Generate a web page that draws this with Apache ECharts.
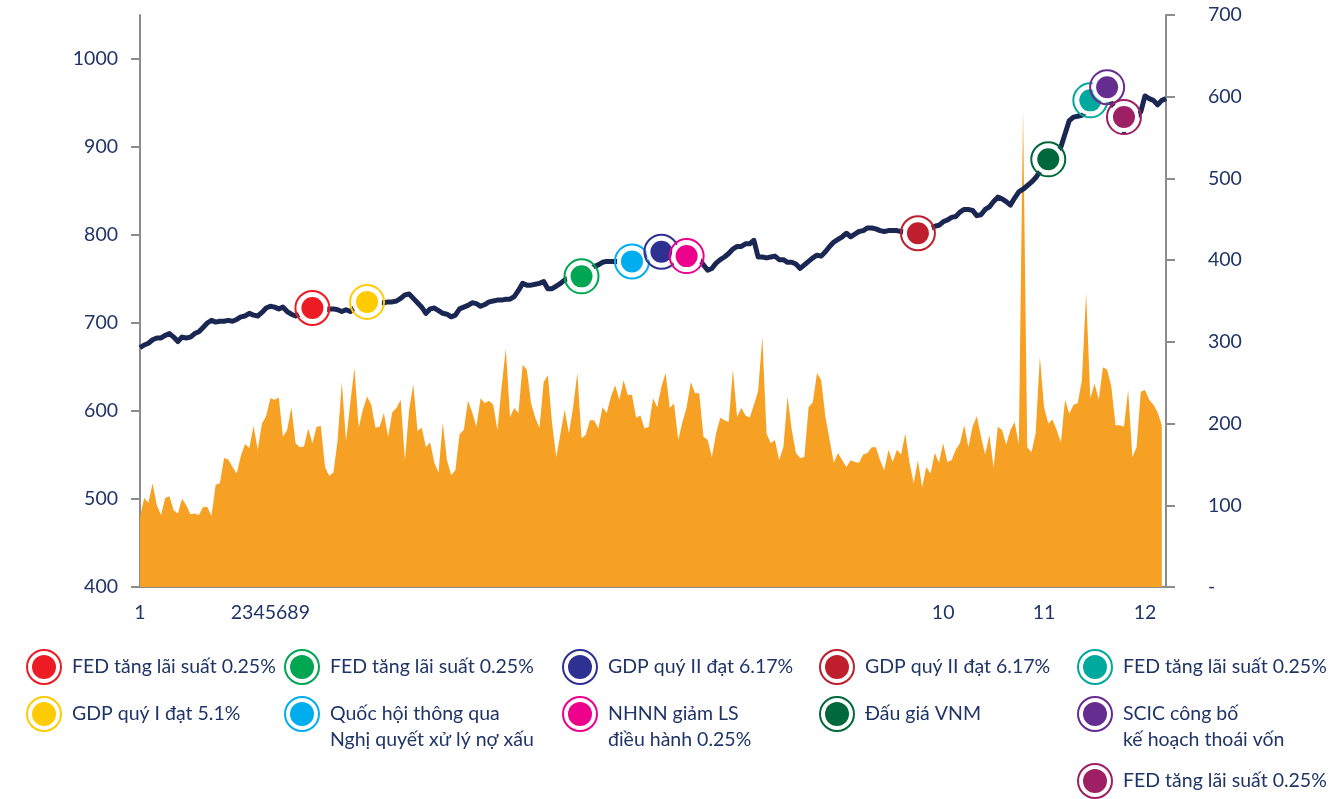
<!DOCTYPE html>
<html>
<head>
<meta charset="utf-8">
<script src="https://cdn.jsdelivr.net/npm/echarts@6/dist/echarts.min.js"></script>
<style>
  html, body { margin: 0; padding: 0; background: #fff; }
  #chart { width: 1341px; height: 799px; }
</style>
</head>
<body>
<div id="chart"></div>
<script>
// trading sessions (one category per session)
const sessionCount = 245;
const sessions = Array.from({ length: sessionCount }, (_, i) => 'S' + (i + 1));

// month labels shown under the axis, at these session indexes
const monthLabelAt = [0, 31, 191, 215, 239];
const monthLabels = ['1', '2345689', '10', '11', '12'];

// VN-Index (left axis)
const vnIndex = [
  672, 675, 677, 681, 683, 683, 686, 688, 684, 679,
  684, 683, 684, 688, 690, 695, 700, 703, 701, 702,
  702, 703, 702, 704, 707, 708, 711, 709, 708, 712,
  717, 719, 718, 716, 718, 713, 710, 708, 710, 716,
  717, 717, 717, 716, 715, 716, 716, 715, 713, 715,
  713, 717, 720, 723, 724, 724, 724, 723, 723, 724,
  724, 725, 728, 732, 733, 728, 723, 718, 711, 716,
  717, 714, 711, 710, 707, 709, 716, 718, 720, 723,
  722, 719, 721, 724, 725, 726, 726, 727, 727, 730,
  737, 745, 743, 743, 744, 745, 747, 739, 739, 742,
  745, 749, 751, 753, 753, 755, 758, 762, 764, 766,
  769, 770, 770, 770, 770, 770, 770, 770, 772, 773,
  775, 779, 781, 781, 779, 775, 772, 772, 773, 775,
  775, 775, 773, 772, 766, 760, 762, 768, 772, 775,
  779, 784, 787, 787, 790, 790, 794, 775, 775, 774,
  775, 776, 772, 772, 769, 769, 767, 762, 766, 770,
  774, 777, 776, 781, 787, 792, 795, 798, 802, 798,
  801, 804, 805, 808, 808, 807, 805, 804, 805, 805,
  805, 804, 803, 802, 802, 802, 803, 804, 807, 810,
  811, 815, 817, 820, 821, 826, 829, 829, 828, 822,
  823, 829, 832, 838, 843, 841, 838, 834, 842, 849,
  852, 856, 860, 865, 872, 880, 886, 889, 893, 900,
  915, 930, 934, 935, 936, 940, 950, 954, 960, 965,
  960, 950, 943, 930, 918, 925, 935, 934, 940, 958,
  955, 953, 948, 953, 955
];

// trading volume, million shares (right axis)
const volume = [
  86, 109, 103, 127, 100, 88, 109, 111, 94, 90,
  108, 100, 89, 90, 88, 98, 98, 87, 125, 127,
  158, 156, 147, 139, 161, 175, 170, 197, 168, 200,
  209, 231, 229, 232, 184, 192, 220, 176, 171, 172,
  194, 176, 196, 197, 147, 136, 140, 180, 251, 178,
  225, 268, 195, 217, 233, 223, 195, 196, 213, 184,
  214, 219, 229, 155, 217, 248, 191, 195, 171, 177,
  152, 140, 201, 155, 137, 143, 187, 192, 228, 214,
  196, 231, 225, 228, 223, 192, 245, 292, 208, 219,
  213, 272, 266, 225, 207, 195, 251, 259, 200, 159,
  188, 217, 188, 220, 262, 182, 186, 204, 204, 194,
  220, 213, 233, 247, 229, 253, 235, 235, 207, 210,
  194, 196, 231, 220, 245, 262, 219, 225, 180, 202,
  220, 251, 237, 237, 184, 180, 159, 188, 207, 204,
  202, 266, 208, 219, 210, 207, 223, 240, 306, 188,
  176, 180, 155, 171, 233, 192, 164, 158, 159, 220,
  226, 262, 253, 208, 180, 152, 164, 155, 147, 155,
  153, 152, 162, 164, 171, 171, 155, 143, 168, 153,
  168, 162, 188, 152, 127, 155, 122, 147, 139, 164,
  152, 176, 153, 155, 168, 176, 198, 171, 196, 209,
  184, 162, 186, 146, 196, 192, 174, 192, 202, 174,
  584, 171, 165, 188, 282, 220, 200, 205, 192, 177,
  229, 212, 223, 225, 253, 360, 231, 249, 229, 269,
  266, 245, 198, 198, 196, 241, 159, 171, 239, 241,
  229, 223, 214, 198
];

// events marked on the index line
const eventLabels = [
  'FED tăng lãi suất 0.25%',
  'GDP quý I đạt 5.1%',
  'FED tăng lãi suất 0.25%',
  'Quốc hội thông qua\nNghị quyết xử lý nợ xấu',
  'GDP quý II đạt 6.17%',
  'NHNN giảm LS\nđiều hành 0.25%',
  'GDP quý II đạt 6.17%',
  'Đấu giá VNM',
  'FED tăng lãi suất 0.25%',
  'SCIC công bố\nkế hoạch thoái vốn',
  'FED tăng lãi suất 0.25%'
];
const eventSession = [41, 54, 105, 117, 124, 130, 185, 216, 226, 230, 234];
const eventValue = [717, 724, 753, 770, 781, 776, 802, 886, 953, 968, 934];
const eventColors = [
  '#ED1C24', '#FFCB05', '#00A651', '#00AEEF', '#2E3192', '#EC008C',
  '#BE1E2D', '#00693C', '#00A99D', '#662D91', '#9E1F63'
];
// legend grid slot (column, row) for each event
const eventLegendCol = [0, 0, 1, 1, 2, 2, 3, 3, 4, 4, 4];
const eventLegendRow = [0, 1, 0, 1, 0, 1, 0, 1, 0, 1, 2];

const leftTicks = [400, 500, 600, 700, 800, 900, 1000];

const textColor = '#1F3467';
const axisGray = '#8C8C8C';
const fontFamily = 'Lato, "Noto Sans", sans-serif';

const chart = echarts.init(document.getElementById('chart'));

const legendColX = [44, 302, 580, 837, 1095];
const legendRowY = [667, 714, 781];
const legendItems = [];
eventLabels.forEach((label, k) => {
  const cx = legendColX[eventLegendCol[k]];
  const cy = legendRowY[eventLegendRow[k]];
  legendItems.push({
    type: 'group',
    children: [
      { type: 'circle', shape: { cx: cx, cy: cy, r: 17 }, style: { fill: '#fff', stroke: eventColors[k], lineWidth: 2 } },
      { type: 'circle', shape: { cx: cx, cy: cy, r: 12 }, style: { fill: eventColors[k] } },
      {
        type: 'text',
        x: cx + 28,
        y: cy - 13,
        style: {
          text: label,
          fill: textColor,
          font: '19.5px ' + fontFamily,
          lineHeight: 26,
          verticalAlign: 'top'
        }
      }
    ]
  });
});

chart.setOption({
  animation: false,
  grid: {
    left: 140,
    right: 175,
    top: 15,
    bottom: 212,
    outerBoundsMode: 'none'
  },
  xAxis: {
    type: 'category',
    data: sessions,
    boundaryGap: false,
    axisLine: { lineStyle: { color: axisGray, width: 2 } },
    axisTick: { show: false },
    axisLabel: {
      interval: 0,
      margin: 16,
      color: textColor,
      fontSize: 19.5,
      fontFamily: fontFamily,
      formatter: function (value, index) {
        const k = monthLabelAt.indexOf(index);
        return k >= 0 ? monthLabels[k] : '';
      }
    },
    splitLine: { show: false }
  },
  yAxis: [
    {
      type: 'value',
      position: 'left',
      min: 400,
      max: 1050,
      interval: 100,
      axisLine: { show: true, lineStyle: { color: axisGray, width: 2 } },
      axisTick: { show: true, inside: false, length: 9, customValues: leftTicks, lineStyle: { color: axisGray, width: 2 } },
      axisLabel: {
        margin: 22,
        color: textColor,
        fontSize: 19.5,
        fontFamily: fontFamily,
        customValues: leftTicks,
        formatter: function (v) { return String(v); }
      },
      splitLine: { show: false }
    },
    {
      type: 'value',
      position: 'right',
      min: 0,
      max: 700,
      interval: 100,
      axisLine: { show: true, lineStyle: { color: axisGray, width: 2 } },
      axisTick: { show: true, inside: false, length: 9, lineStyle: { color: axisGray, width: 2 } },
      axisLabel: {
        margin: 42,
        color: textColor,
        fontSize: 19.5,
        fontFamily: fontFamily,
        formatter: function (v) { return v === 0 ? '-' : String(v); }
      },
      splitLine: { show: false }
    }
  ],
  series: [
    {
      name: 'Khối lượng',
      type: 'line',
      yAxisIndex: 1,
      data: volume,
      symbol: 'none',
      lineStyle: { width: 0 },
      areaStyle: { color: '#F6A024', opacity: 1 },
      itemStyle: { color: '#F6A024' },
      z: 2
    },
    {
      name: 'VN-Index',
      type: 'line',
      yAxisIndex: 0,
      data: vnIndex,
      symbol: 'none',
      lineStyle: { width: 5, color: '#1B2753', join: 'round' },
      z: 3
    },
    {
      name: 'Sự kiện',
      type: 'custom',
      yAxisIndex: 0,
      data: eventSession.map((s, k) => [s, eventValue[k]]),
      z: 5,
      renderItem: function (params, api) {
        const p = api.coord([api.value(0), api.value(1)]);
        const c = eventColors[params.dataIndex];
        return {
          type: 'group',
          children: [
            { type: 'circle', shape: { cx: p[0], cy: p[1], r: 17 }, style: { fill: 'none', stroke: c, lineWidth: 2 } },
            { type: 'circle', shape: { cx: p[0], cy: p[1], r: 15 }, style: { fill: '#fff' } },
            { type: 'circle', shape: { cx: p[0], cy: p[1], r: 11 }, style: { fill: c } }
          ]
        };
      }
    }
  ],
  graphic: { elements: legendItems }
});
</script>
</body>
</html>
